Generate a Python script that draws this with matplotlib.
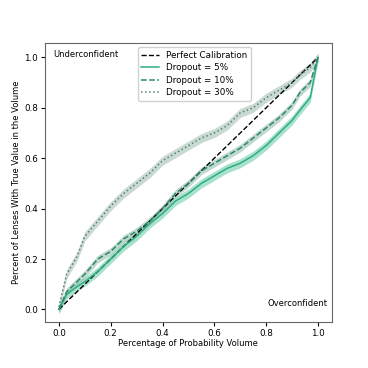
import numpy as np
import matplotlib
matplotlib.use("Agg")
import matplotlib.pyplot as plt

# percentage of probability volume
volume = [0.0, 0.03, 0.07, 0.1, 0.15, 0.2, 0.25, 0.3, 0.35, 0.4, 0.45,
          0.5, 0.55, 0.6, 0.65, 0.7, 0.75, 0.8, 0.85, 0.9, 0.93, 0.97, 1.0]

# fraction of lenses with true value inside the volume
drop_5 = [0.0, 0.06, 0.09, 0.11, 0.15, 0.20, 0.25, 0.29, 0.34, 0.38, 0.43,
          0.46, 0.50, 0.53, 0.56, 0.58, 0.61, 0.65, 0.70, 0.75, 0.79, 0.84, 1.0]
drop_10 = [0.0, 0.07, 0.11, 0.14, 0.20, 0.23, 0.28, 0.31, 0.35, 0.40, 0.46,
           0.50, 0.55, 0.58, 0.61, 0.64, 0.68, 0.72, 0.76, 0.81, 0.86, 0.90, 1.0]
drop_30 = [0.01, 0.14, 0.21, 0.29, 0.35, 0.41, 0.46, 0.50, 0.54, 0.59, 0.62,
           0.65, 0.68, 0.70, 0.73, 0.78, 0.80, 0.84, 0.87, 0.90, 0.93, 0.96, 1.0]

err_5 = 0.018
err_10 = 0.015
err_30 = 0.018

plt.rcParams['font.family'] = 'DejaVu Sans'
plt.rcParams['font.size'] = 6

fig = plt.figure(figsize=(3.68, 3.68), dpi=100)
ax = fig.add_axes([0.122, 0.125, 0.78, 0.758])

x = np.array(volume)
ax.plot([0, 1], [0, 1], 'k--', lw=1.0, label='Perfect Calibration')

series = [
    (drop_5, err_5, '-', '#2fae80', '#62c9a3', 'Dropout = 5%'),
    (drop_10, err_10, '--', '#2b8a68', '#8db8a6', 'Dropout = 10%'),
    (drop_30, err_30, ':', '#56806f', '#9dbcae', 'Dropout = 30%'),
]
for vals, err, ls, col, fcol, lab in series:
    y = np.array(vals)
    ax.fill_between(x, y - err, y + err, color=fcol, alpha=0.55, lw=0)
    ax.plot(x, y, ls=ls, color=col, lw=1.1, label=lab)

ax.set_xlim(-0.054, 1.054)
ax.set_ylim(-0.05, 1.057)
ax.set_xticks([0, 0.2, 0.4, 0.6, 0.8, 1.0])
ax.set_yticks([0, 0.2, 0.4, 0.6, 0.8, 1.0])
ax.tick_params(length=3, width=0.8, pad=2, labelsize=6.3)
for s in ax.spines.values():
    s.set_color('#666666')
ax.set_xlabel('Percentage of Probability Volume', labelpad=1)
ax.set_ylabel('Percent of Lenses With True Value in the Volume', labelpad=2)
ax.text(0.03, 0.975, 'Underconfident', transform=ax.transAxes, va='top', ha='left')
ax.text(0.985, 0.05, 'Overconfident', transform=ax.transAxes, va='bottom', ha='right')
ax.legend(loc='upper center', bbox_to_anchor=(0.52, 1.0), fontsize=6.3,
          handlelength=2.0, borderpad=0.4, labelspacing=0.4, framealpha=0.9)

fig.savefig('out.png', dpi=100)
